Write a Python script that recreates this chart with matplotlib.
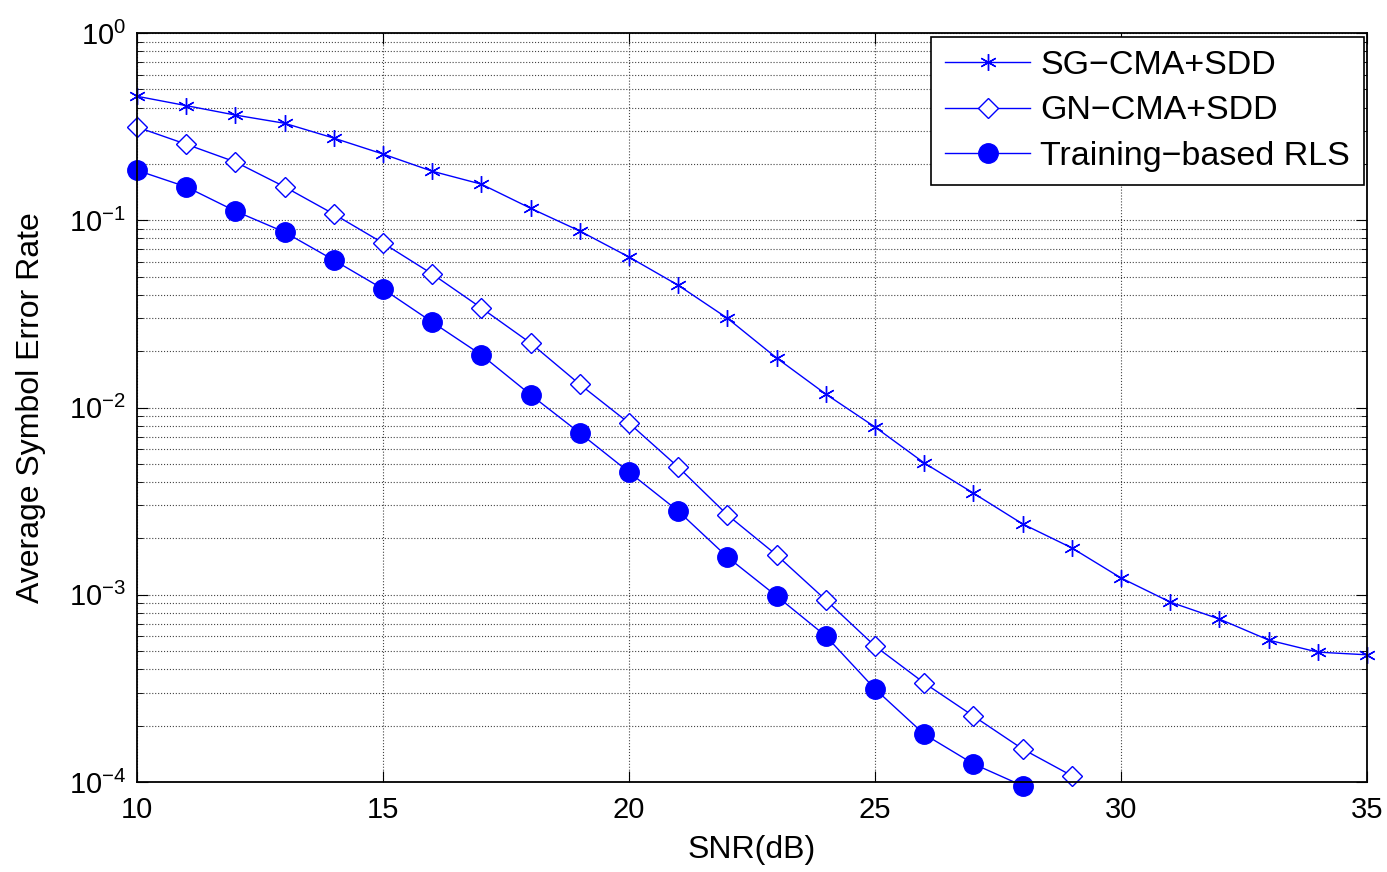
import numpy as np
import matplotlib.pyplot as plt

# SNR points (dB)
snr_sg = np.arange(10, 36)
snr_gn = np.arange(10, 30)
snr_rls = np.arange(10, 29)

# values
ser_sg = [0.46, 0.41, 0.365, 0.33, 0.275, 0.226, 0.183, 0.156, 0.116, 0.0877,
          0.0637, 0.045, 0.030, 0.0184, 0.0118, 0.00787, 0.00506, 0.00349,
          0.00239, 0.00178, 0.00123, 0.000914, 0.000742, 0.000573, 0.000494, 0.000478]
ser_gn = [0.315, 0.255, 0.205, 0.151, 0.108, 0.0756, 0.0517, 0.034, 0.0221, 0.0133,
          0.00826, 0.00481, 0.00267, 0.00163, 0.000938, 0.000532, 0.000338,
          0.000225, 0.00015, 0.000108]
ser_rls = [0.185, 0.151, 0.112, 0.0865, 0.0613, 0.043, 0.0286, 0.0191, 0.0117,
           0.00731, 0.00452, 0.0028, 0.00159, 0.000984, 0.000602, 0.000314,
           0.00018, 0.000125, 0.0000954]

plt.rcParams['font.family'] = ['Liberation Sans', 'DejaVu Sans']

fig = plt.figure(figsize=(13.87, 8.72), dpi=100)
ax = fig.add_axes([0.0988, 0.1032, 0.8868, 0.8588])

blue = (0, 0, 1)
ax.plot(snr_sg, ser_sg, color=blue, lw=1, marker=(6, 2, 0), ms=12, mew=1,
        label='SG\u2212CMA+SDD', clip_on=False)
ax.plot(snr_gn, ser_gn, color=blue, lw=1, marker='D', ms=10, mfc='white', mew=1,
        label='GN\u2212CMA+SDD', clip_on=False)
ax.plot(snr_rls, ser_rls, color=blue, lw=1, marker='o', ms=14,
        label='Training\u2212based RLS', clip_on=False)

ax.set_yscale('log')
ax.set_xlim(10, 35)
ax.set_ylim(1e-4, 1)
ax.set_xticks([10, 15, 20, 25, 30, 35])

ax.grid(True, which='major', color='#444444', ls=':', lw=0.8)
ax.grid(True, which='minor', axis='y', color='#444444', ls=':', lw=0.8)
ax.tick_params(which='both', direction='in', top=True, right=True, labelsize=21)
ax.tick_params(which='major', length=8)
ax.tick_params(which='minor', length=4)
ax.tick_params(axis='x', pad=10)
ax.tick_params(axis='y', pad=8)
for s in ax.spines.values():
    s.set_linewidth(1.3)

ax.set_xlabel('SNR(dB)', fontsize=23, labelpad=8)
ax.set_ylabel('Average Symbol Error Rate', fontsize=23, labelpad=16)

leg = ax.legend(loc='upper right', fontsize=24.5, fancybox=False, framealpha=1,
                edgecolor='black', borderaxespad=0.1, handlelength=2.5,
                labelspacing=0.42, borderpad=0.4, handletextpad=0.3)
leg.get_frame().set_linewidth(1.2)

fig.savefig('out.png', dpi=100)
